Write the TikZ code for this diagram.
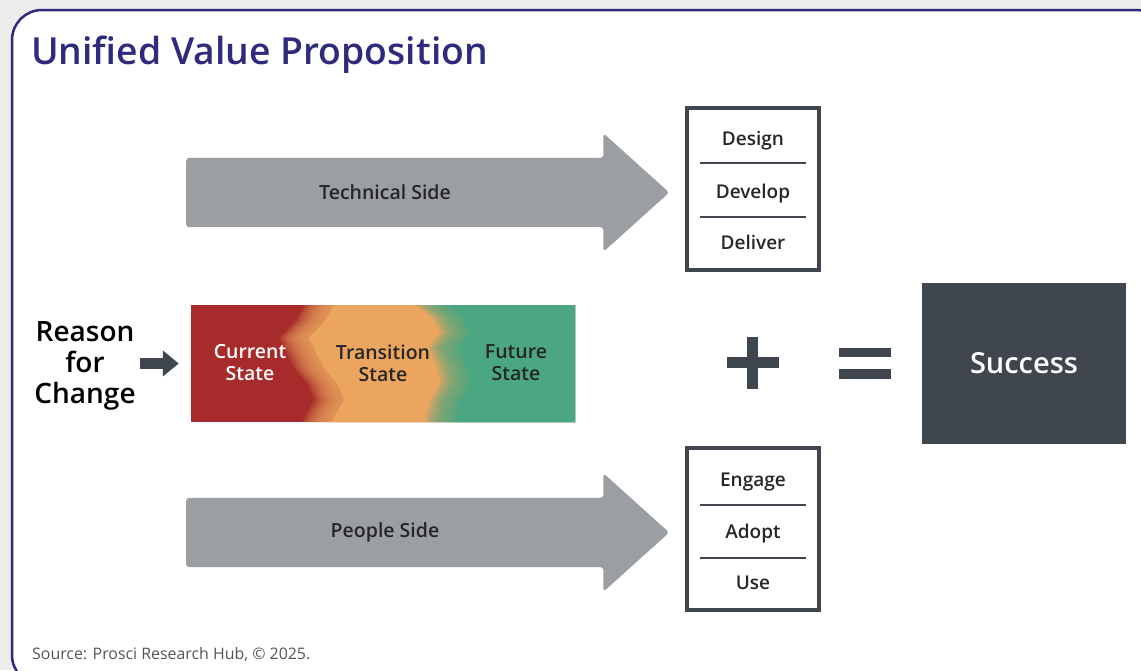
\documentclass[tikz,border=0pt]{standalone}
\usepackage{fontspec}
\setmainfont{Open Sans}
\IfFontExistsTF{Open Sans Semibold}{\newfontfamily\semib{Open Sans Semibold}}{\newcommand\semib{\bfseries}}
\usetikzlibrary{shapes.arrows,arrows.meta}

\definecolor{framecol}{HTML}{2E2B7F}
\definecolor{pagegray}{HTML}{ECECEA}
\definecolor{arrowgray}{HTML}{9B9EA2}
\definecolor{slate}{HTML}{40464E}
\definecolor{inktext}{HTML}{262626}
\definecolor{sourcegray}{HTML}{555555}
\definecolor{redstate}{HTML}{A62B2A}
\definecolor{orangestate}{HTML}{ECA55F}
\definecolor{greenstate}{HTML}{4BA682}

\begin{document}
\begin{tikzpicture}[x=1pt,y=-1pt,
    sidearrow/.style={single arrow, fill=arrowgray, rounded corners=3pt, anchor=tail,
      minimum height=483pt, minimum width=118pt, single arrow head extend=24.5pt,
      single arrow tip angle=84, inner sep=0pt, text height=69pt, text depth=0pt},
    sidetext/.style={text=inktext, font=\semib\fontsize{19.5}{22}\selectfont},
    statetext/.style={text=inktext, align=center, font=\semib\fontsize{19.5}{22}\selectfont},
    listbox/.style={draw=slate, line width=4pt, fill=white, minimum width=132pt, minimum height=162pt},
    listitem/.style={text=inktext, anchor=base, font=\semib\fontsize{19}{22}\selectfont},
    sepline/.style={draw=slate, line width=1.3pt},
    signbar/.style={fill=slate}]
  \useasboundingbox (0,0) rectangle (1141,670);
  \clip (0,0) rectangle (1141,670);
  \fill[pagegray] (0,0) rectangle (1141,670);
  \draw[framecol, line width=2.5pt, fill=white, rounded corners=30pt] (12,10) rectangle (1166,685);

  \node[anchor=base west, inner sep=0pt, text=framecol, font=\semib\fontsize{37.3}{44}\selectfont] (title) at (31,64) {Unified Value Proposition};

  \node[sidearrow] (techarrow) at (186,192.5) {};
  \node[sidetext] (techtext) at (385,192) {Technical Side};
  \node[sidearrow] (peoplearrow) at (186,532.5) {};
  \node[sidetext] (peopletext) at (385,532) {People Side};

  \node[fill=redstate, minimum width=384pt, minimum height=117pt, inner sep=0pt] (states) at (383,363.5) {};
  \begin{scope}
    \clip (191,305) rectangle (575,422);
    \foreach \s in {-16,-14,...,12}
      \fill[orangestate, opacity=0.13] (\s+320,305) -- (\s+312,320) -- (\s+295,338) -- (\s+302,352) -- (\s+310,368) -- (\s+324,385) -- (\s+330,400) -- (\s+318,422) -- (575,422) -- (575,305) -- cycle;
    \fill[orangestate] (334,305) -- (326,320) -- (309,338) -- (316,352) -- (324,368) -- (338,385) -- (344,400) -- (332,422) -- (575,422) -- (575,305) -- cycle;
    \foreach \s in {-16,-14,...,12}
      \fill[greenstate, opacity=0.13] (\s+432,305) -- (\s+448,318) -- (\s+456,332) -- (\s+444,348) -- (\s+452,365) -- (\s+456,382) -- (\s+446,400) -- (\s+440,422) -- (575,422) -- (575,305) -- cycle;
    \fill[greenstate] (446,305) -- (462,318) -- (470,332) -- (458,348) -- (466,365) -- (470,382) -- (460,400) -- (454,422) -- (575,422) -- (575,305) -- cycle;
  \end{scope}
  \node[statetext, text=white] (current) at (250,363) {Current\\State};
  \node[statetext] (transition) at (383,363) {Transition\\State};
  \node[statetext] (future) at (516,363) {Future\\State};

  \node[align=center, inner sep=0pt, text=black, font=\semib\fontsize{28}{31}\selectfont] (reason) at (85,366) {Reason\\for\\Change};
  \draw[slate, line width=11pt, -{Triangle[length=16pt,width=25pt]}, shorten <=4pt, shorten >=12pt] (reason.east |- states.west) -- (states.west);

  \node[listbox] (techlist) at (753,189) {};
  \node[listitem] (design) at (753,145) {Design};
  \node[listitem] (develop) at (753,198) {Develop};
  \node[listitem] (deliver) at (753,249) {Deliver};
  \draw[sepline] (700,163) -- (806,163);
  \draw[sepline] (700,217) -- (806,217);

  \node[listbox] (peoplelist) at (753,529) {};
  \node[listitem] (engage) at (753,486) {Engage};
  \node[listitem] (adopt) at (753,538) {Adopt};
  \node[listitem] (use) at (753,589) {Use};
  \draw[sepline] (700,505) -- (806,505);
  \draw[sepline] (700,558) -- (806,558);

  \fill[signbar] (727,357) rectangle (779,368);
  \fill[signbar] (747,337) rectangle (758,389);
  \fill[signbar] (839,348) rectangle (891,357);
  \fill[signbar] (839,369) rectangle (891,379);

  \node[fill=slate, minimum width=204pt, minimum height=161pt, text=white, font=\semib\fontsize{29}{34}\selectfont] (success) at (1024,363.5) {Success};

  \node[anchor=base west, inner sep=0pt, text=sourcegray, font=\fontsize{15.9}{18}\selectfont] (source) at (32,659) {Source: Prosci Research Hub, © 2025.};
\end{tikzpicture}
\end{document}
